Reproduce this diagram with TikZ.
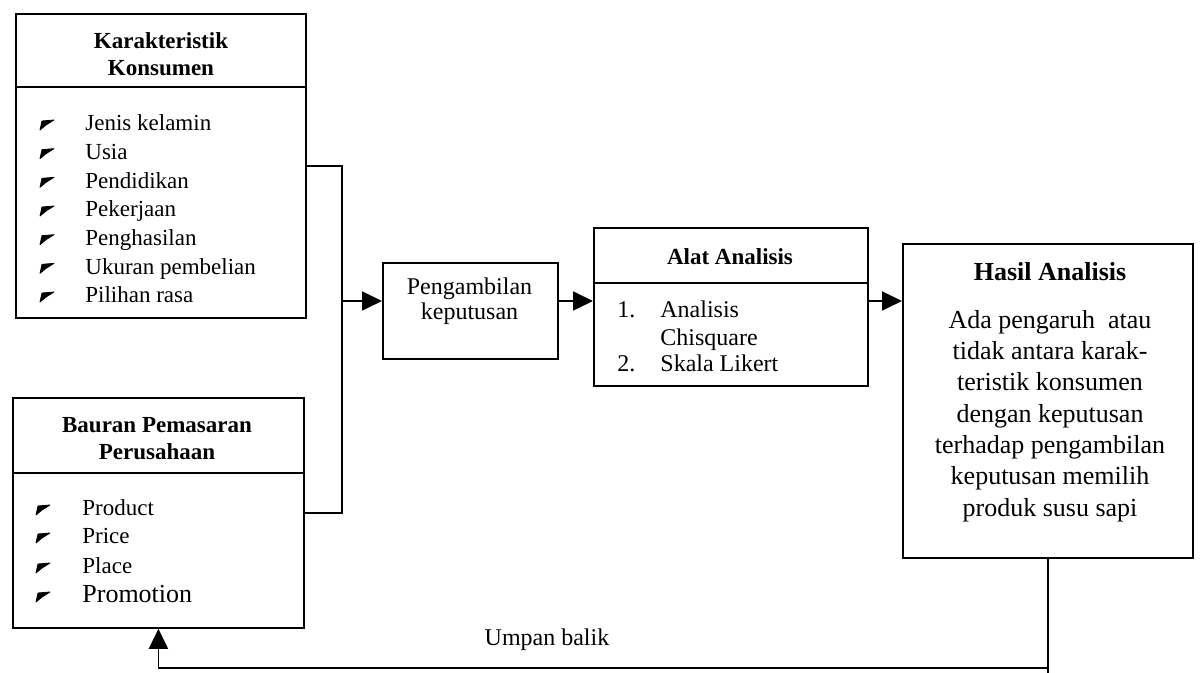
\documentclass[tikz,border=0pt]{standalone}
\usepackage{fontspec}
\setmainfont{Liberation Serif}
\usetikzlibrary{arrows.meta}
\begin{document}
\begin{tikzpicture}[x=0.5pt,y=-0.5pt,
  box/.style={draw, line width=0.9pt, anchor=north west, inner sep=0pt},
  ln/.style={line width=0.9pt},
  arr/.style={line width=0.9pt, -{Triangle[length=10pt,width=9.5pt]}},
  item/.style={anchor=west, inner sep=0pt, text height=1.5ex, text depth=.25ex, font=\fontsize{11.5}{13}\selectfont},
  ttl/.style={align=center, inner sep=0pt, font=\bfseries\fontsize{11.5}{13.5}\selectfont},
  bullet/.style={fill=black, draw=black, line width=0.4pt, line join=round}]
\useasboundingbox (0,0) rectangle (1200,673);

% boxes
\node[box, minimum width=145pt, minimum height=152pt] (k) at (15,13) {};
\node[box, minimum width=145.5pt, minimum height=115pt] (b) at (12,397) {};
\node[box, minimum width=87.5pt, minimum height=48pt] (p) at (382,262) {};
\node[box, minimum width=137pt, minimum height=79pt] (a) at (593,227) {};
\node[box, minimum width=145pt, minimum height=157pt] (h) at (902,243) {};

% dividers
\draw[ln] (k.west |- 0,87) -- (k.east |- 0,87);
\draw[ln] (b.west |- 0,473) -- (b.east |- 0,473);
\draw[ln] (a.west |- 0,283) -- (a.east |- 0,283);

% titles
\node[ttl] (kt) at (161,54) {Karakteristik\\Konsumen};
\node[ttl] (bt) at (157,439) {Bauran Pemasaran\\Perusahaan};
\node[ttl] (at) at (730,257) {Alat Analisis};
\node[ttl, font=\bfseries\fontsize{13}{15}\selectfont] (ht) at (1050,272) {Hasil Analisis};

% Karakteristik items
\foreach \t [count=\i] in {Jenis kelamin, Usia, Pendidikan, Pekerjaan, Penghasilan, Ukuran pembelian, Pilihan rasa} {
  \pgfmathsetmacro\yy{125+28.67*(\i-1)}
  \node[item] (ki\i) at (85,\yy) {\t};
  \filldraw[bullet, shift={(47,\yy)}] (-7,5) -- (-5,-4) -- (7,-5) -- (-1,0) -- cycle;
}

% Bauran items
\node[item] (b1) at (82,510) {Product};
\node[item] (b2) at (82,538) {Price};
\node[item] (b3) at (82,568) {Place};
\node[item, font=\fontsize{13}{15}\selectfont] (b4) at (82,597) {Promotion};
\foreach \yy in {510,538,568,597} {
  \filldraw[bullet, shift={(43,\yy)}] (-7,5) -- (-5,-4) -- (7,-5) -- (-1,0) -- cycle;
}

% Pengambilan
\node[align=center, inner sep=0pt, font=\fontsize{12}{12.5}\selectfont] (pt) at (469.5,301) {Pengambilan\\keputusan};

% Alat items
\node[item, font=\fontsize{12}{14}\selectfont] (n1) at (617,312) {1.};
\node[item, font=\fontsize{12}{14}\selectfont] (a1) at (660,312) {Analisis};
\node[item, font=\fontsize{12}{14}\selectfont] (a2) at (660,340) {Chisquare};
\node[item, font=\fontsize{12}{14}\selectfont] (n2) at (617,366) {2.};
\node[item, font=\fontsize{12}{14}\selectfont] (a3) at (660,366) {Skala Likert};

% Hasil text
\node[align=center, inner sep=0pt, font=\fontsize{13}{15.65}\selectfont] (hx) at (1050,416)
  {Ada pengaruh\ \ atau\\tidak antara karak-\\teristik konsumen\\dengan keputusan\\terhadap pengambilan\\keputusan memilih\\produk susu sapi};

% connectors
\coordinate (j) at (342,301);
\draw[ln] (k.east) -| (j) |- (b.east);
\draw[arr] (j) -- (j -| p.west);
\draw[arr] (p.east |- j) -- (a.west |- j);
\draw[arr] (a.east |- j) -- (h.west |- j);

% feedback
\coordinate (fb) at (0,668);
\draw[arr] (h.south) |- (fb -| b.south) -- (b.south);
\draw[ln] (h.south |- fb) -- ++(0,5);
\node[inner sep=0pt, font=\fontsize{12}{14}\selectfont] (ub) at (547,640) {Umpan balik};
\end{tikzpicture}
\end{document}
